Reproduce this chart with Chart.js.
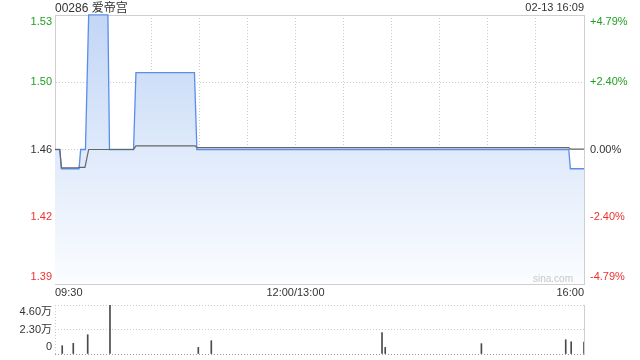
<!doctype html>
<html lang="zh">
<head>
    <meta charset="utf-8">
    <title>00286 爱帝宫</title>
    <style>
        body { margin: 0; background: #fff; font-family: "Liberation Sans", Arial, "Noto Sans CJK SC", sans-serif; }
        #wrap { position: relative; width: 640px; height: 360px; overflow: hidden; }
        .txt { position: absolute; color: #333; white-space: nowrap; }
    </style>
</head>
<script src="https://cdn.jsdelivr.net/npm/chart.js"></script>
<body>
<div id="wrap">
    <canvas id="price-chart" width="640" height="300" style="position:absolute; left:0; top:0"></canvas>
    <canvas id="volume-chart" width="640" height="60" style="position:absolute; left:0; top:300px"></canvas>
    <div class="txt" style="left:55px; top:1px; font-size:12px; line-height:14px">00286 爱帝宫</div>
    <div class="txt" style="right:56px; top:1px; font-size:11px; line-height:13px">02-13 16:09</div>
    <div class="txt" style="right:67px; top:272px; font-size:10px; line-height:13px; color:#c8c8c8">sina.com</div>
</div>
<script>
    // DATA (minutes since 09:30, lunch break removed)
    const prevClose = 1.46
    const pctTicks = [-4.79, -2.40, 0, 2.40, 4.79]
    const priceTickLabels = ['1.39', '1.42', '1.46', '1.50', '1.53']
    const pctTickLabels = ['-4.79%', '-2.40%', '0.00%', '+2.40%', '+4.79%']
    const gridMinutes = [0, 30, 60, 90, 120, 150, 180, 210, 240, 270, 300, 330]
    const timeTickMinutes = [0, 150, 330]
    const timeTickLabels = ['09:30', '12:00/13:00', '16:00']

    const priceMinutes = [0, 3, 4, 15, 16, 19, 21, 33, 34, 49, 50.5, 87, 88.5, 320.5, 321.5, 330]
    const prices = [1.46, 1.46, 1.45, 1.45, 1.46, 1.46, 1.53, 1.53, 1.46, 1.46, 1.50, 1.50, 1.46, 1.46, 1.45, 1.45]

    const avgMinutes = [0, 3, 4, 14.5, 15, 18.7, 21, 49, 50.5, 87.5, 88.5, 320.5, 321.5, 330]
    const avgPrices = [1.46, 1.46, 1.4505, 1.4505, 1.4507, 1.4507, 1.4600, 1.4601, 1.4619, 1.4619, 1.4610, 1.4610, 1.4602, 1.4602]

    const volMinutes = [4.5, 11.4, 20.4, 34.3, 89.4, 97.5, 204, 206, 266, 318.6, 322, 330]
    const volumes = [7800, 10000, 18100, 46000, 6200, 12500, 20000, 6200, 9700, 13400, 11500, 11200]
    const volTicks = [0, 23000, 46000]
    const volTickLabels = ['0', '2.30万', '4.60万']

    const FONT = '"Liberation Sans", Arial, "Noto Sans CJK SC", sans-serif'
    const GREEN = '#22a022'
    const RED = '#f03030'
    const GRID = '#cccccc'
    const BORDER = '#cfcfcf'

    function pctColor(i) {
        if (pctTicks[i] > 0) return GREEN
        if (pctTicks[i] < 0) return RED
        return '#333'
    }

    // push first/last label inside the plot like the original
    function edgeLabel(label, index, count) {
        if (index === 0) return [label, '']
        if (index === count - 1) return ['', label]
        return label
    }

    // fixed axis size, no extra room for overflowing labels
    function fixSize(size) {
        return function (s) {
            if (s.isHorizontal()) s.height = size
            else s.width = size
            s.paddingTop = 0
            s.paddingBottom = 0
            s.paddingLeft = 0
            s.paddingRight = 0
        }
    }

    const priceTickValues = pctTicks.map(p => prevClose * (1 + p / 100))
    const toPoints = (xs, ys) => xs.map((x, i) => ({x: x, y: ys[i]}))

    const priceChart = new Chart(document.getElementById('price-chart').getContext('2d'), {
        type: 'line',
        data: {
            datasets: [{
                data: toPoints(avgMinutes, avgPrices),
                borderColor: '#666',
                borderWidth: 1.2,
                pointRadius: 0,
                fill: false
            }, {
                data: toPoints(priceMinutes, prices),
                borderColor: '#5a8ee8',
                borderWidth: 1.3,
                pointRadius: 0,
                clip: 2,
                fill: 'start',
                backgroundColor: function (context) {
                    const {ctx, chartArea} = context.chart
                    if (!chartArea) return null
                    const g = ctx.createLinearGradient(0, chartArea.top, 0, chartArea.bottom)
                    g.addColorStop(0, '#c2d6f6')
                    g.addColorStop(1, '#fbfdff')
                    return g
                }
            }]
        },
        options: {
            responsive: false,
            animation: false,
            layout: {padding: {top: 15}},
            plugins: {legend: {display: false}, tooltip: {enabled: false}},
            scales: {
                x: {
                    type: 'linear',
                    min: 0,
                    max: 330,
                    afterBuildTicks: s => { s.ticks = gridMinutes.map(v => ({value: v})) },
                    afterFit: fixSize(16),
                    grid: {color: GRID, drawTicks: false},
                    border: {color: BORDER, dash: [1, 2]},
                    ticks: {
                        autoSkip: false,
                        maxRotation: 0,
                        align: 'inner',
                        padding: 2,
                        color: '#333',
                        font: {family: FONT, size: 11},
                        callback: v => {
                            const i = timeTickMinutes.indexOf(v)
                            return i >= 0 ? timeTickLabels[i] : ''
                        }
                    }
                },
                x2: {
                    type: 'linear',
                    position: 'top',
                    min: 0,
                    max: 330,
                    afterFit: fixSize(0),
                    grid: {display: false, drawTicks: false},
                    border: {color: BORDER},
                    ticks: {display: false}
                },
                y: {
                    min: priceTickValues[0],
                    max: priceTickValues[priceTickValues.length - 1],
                    afterBuildTicks: s => { s.ticks = priceTickValues.map(v => ({value: v})) },
                    afterFit: fixSize(55),
                    grid: {color: GRID, drawTicks: false},
                    border: {color: BORDER, dash: [1, 2]},
                    ticks: {
                        autoSkip: false,
                        padding: 3,
                        font: {family: FONT, size: 11},
                        color: c => pctColor(c.index),
                        callback: (v, i, t) => edgeLabel(priceTickLabels[i], i, t.length)
                    }
                },
                y1: {
                    position: 'right',
                    min: pctTicks[0],
                    max: pctTicks[pctTicks.length - 1],
                    afterBuildTicks: s => { s.ticks = pctTicks.map(v => ({value: v})) },
                    afterFit: fixSize(56),
                    grid: {display: false, drawTicks: false},
                    border: {color: BORDER},
                    ticks: {
                        autoSkip: false,
                        padding: 6,
                        font: {family: FONT, size: 11},
                        color: c => pctColor(c.index),
                        callback: (v, i, t) => edgeLabel(pctTickLabels[i], i, t.length)
                    }
                }
            }
        }
    })

    const volumeChart = new Chart(document.getElementById('volume-chart').getContext('2d'), {
        type: 'bar',
        data: {
            datasets: [{
                data: toPoints(volMinutes, volumes),
                backgroundColor: '#4a4a4a',
                barThickness: 1
            }]
        },
        options: {
            responsive: false,
            animation: false,
            layout: {padding: {top: 5}},
            plugins: {legend: {display: false}, tooltip: {enabled: false}},
            scales: {
                x: {
                    type: 'linear',
                    offset: false,
                    min: 0,
                    max: 330,
                    afterBuildTicks: s => { s.ticks = [{value: 0}, {value: 330}] },
                    afterFit: fixSize(6),
                    grid: {color: GRID, drawTicks: false, offset: false},
                    border: {display: false, dash: [1, 2]},
                    ticks: {display: false}
                },
                y: {
                    min: 0,
                    max: volTicks[volTicks.length - 1],
                    afterBuildTicks: s => { s.ticks = volTicks.map(v => ({value: v})) },
                    afterFit: fixSize(55),
                    grid: {color: c => c.tick && c.tick.value === 0 ? '#999' : GRID, drawTicks: false},
                    border: {display: false, dash: [1, 2]},
                    ticks: {
                        autoSkip: false,
                        padding: 3,
                        color: '#333',
                        font: {family: FONT, size: 11},
                        callback: (v, i, t) => edgeLabel(volTickLabels[i], i, t.length)
                    }
                },
                y1: {
                    position: 'right',
                    min: 0,
                    max: volTicks[volTicks.length - 1],
                    afterFit: fixSize(56),
                    grid: {display: false, drawTicks: false},
                    border: {color: BORDER},
                    ticks: {display: false}
                }
            }
        }
    })
</script>
</body>
</html>
